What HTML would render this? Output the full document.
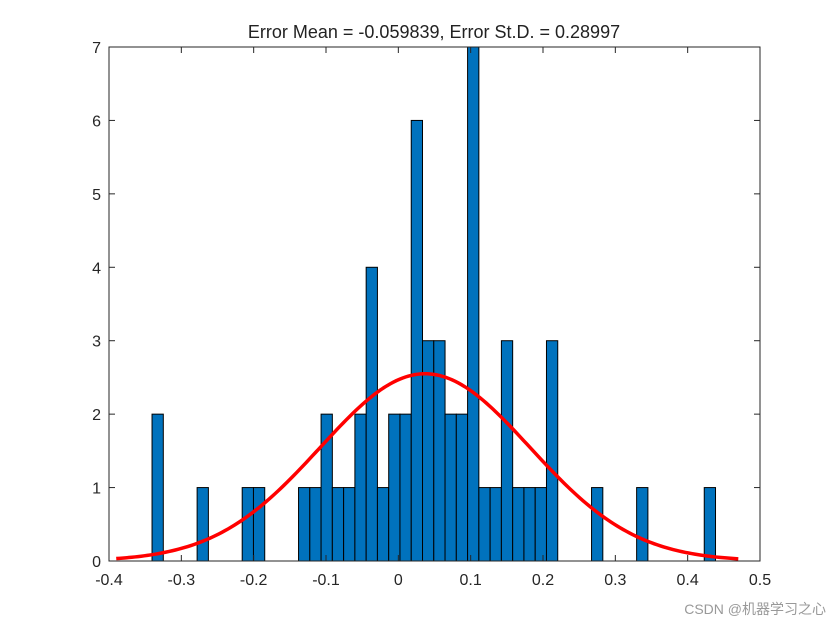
<!DOCTYPE html>
<html><head><meta charset="utf-8"><style>
body{margin:0;background:#fff;}
svg text{font-family:"Liberation Sans",Arial,sans-serif;}
</style></head><body>
<svg id="chart" width="840" height="630" xmlns="http://www.w3.org/2000/svg">
<rect width="840" height="630" fill="#fff"/>
<text x="434" y="38" font-size="18" text-anchor="middle" fill="#222">Error Mean = -0.059839, Error St.D. = 0.28997</text>
<g id="bars"></g><g id="curve"></g><g id="axes"></g>
<text x="826" y="614" font-size="14" text-anchor="end" fill="#999" font-family="Liberation Sans, Noto Sans CJK SC, sans-serif">CSDN @机器学习之心</text>
</svg>
<script>
const binStart = -0.3405;
const binWidth = 0.01558;
const counts = [2,0,0,0,1,0,0,0,1,1,0,0,0,1,1,2,1,1,2,4,1,2,2,6,3,3,2,2,7,1,1,3,1,1,1,3,0,0,0,1,0,0,0,1,0,0,0,0,0,1];
const xTicks = [-0.4,-0.3,-0.2,-0.1,0,0.1,0.2,0.3,0.4,0.5];
const yTicks = [0,1,2,3,4,5,6,7];
const fitMean = 0.037, fitSigma = 0.145, fitPeak = 2.55;
const curveRange = [-0.39, 0.47];
const L=109,R=760,T=47,B=561;
const xS=v=>L+(v+0.4)/0.9*(R-L);
const yS=v=>B-v/7*(B-T);
const NS='http://www.w3.org/2000/svg';
function mk(tag,attrs,parent){const e=document.createElementNS(NS,tag);for(const k in attrs)e.setAttribute(k,attrs[k]);parent.appendChild(e);return e;}
const gb=document.getElementById('bars');
counts.forEach((c,i)=>{if(!c)return;const x0=xS(binStart+i*binWidth),x1=xS(binStart+(i+1)*binWidth);
const r=mk('rect',{x:x0,y:yS(c),width:x1-x0,height:yS(0)-yS(c),fill:'#0072BD',stroke:'#000','stroke-width':1},gb);

});
let d='';for(let k=0;k<=200;k++){const x=curveRange[0]+(curveRange[1]-curveRange[0])*k/200;const y=fitPeak*Math.exp(-((x-fitMean)**2)/(2*fitSigma**2));d+=(k?'L':'M')+xS(x).toFixed(2)+','+yS(y).toFixed(2);}
const p=mk('path',{d:d,fill:'none',stroke:'#f00','stroke-width':3.5},document.getElementById('curve'));


const ga=document.getElementById('axes');
const box=mk('rect',{x:L,y:T,width:R-L,height:B-T,fill:'none',stroke:'#262626','stroke-width':1},ga);


xTicks.forEach(v=>{const x=xS(v);mk('line',{x1:x,x2:x,y1:B,y2:B-6,stroke:'#262626'},ga);mk('line',{x1:x,x2:x,y1:T,y2:T+6,stroke:'#262626'},ga);
const t=mk('text',{x:x,y:B+24,'font-size':16,'text-anchor':'middle',fill:'#262626'},ga);t.textContent=String(v);

});
yTicks.forEach(v=>{const y=yS(v);mk('line',{x1:L,x2:L+6,y1:y,y2:y,stroke:'#262626'},ga);mk('line',{x1:R,x2:R-6,y1:y,y2:y,stroke:'#262626'},ga);
const t=mk('text',{x:L-8,y:y+6,'font-size':16,'text-anchor':'end',fill:'#262626'},ga);t.textContent=String(v);

});
</script>
</body></html>
